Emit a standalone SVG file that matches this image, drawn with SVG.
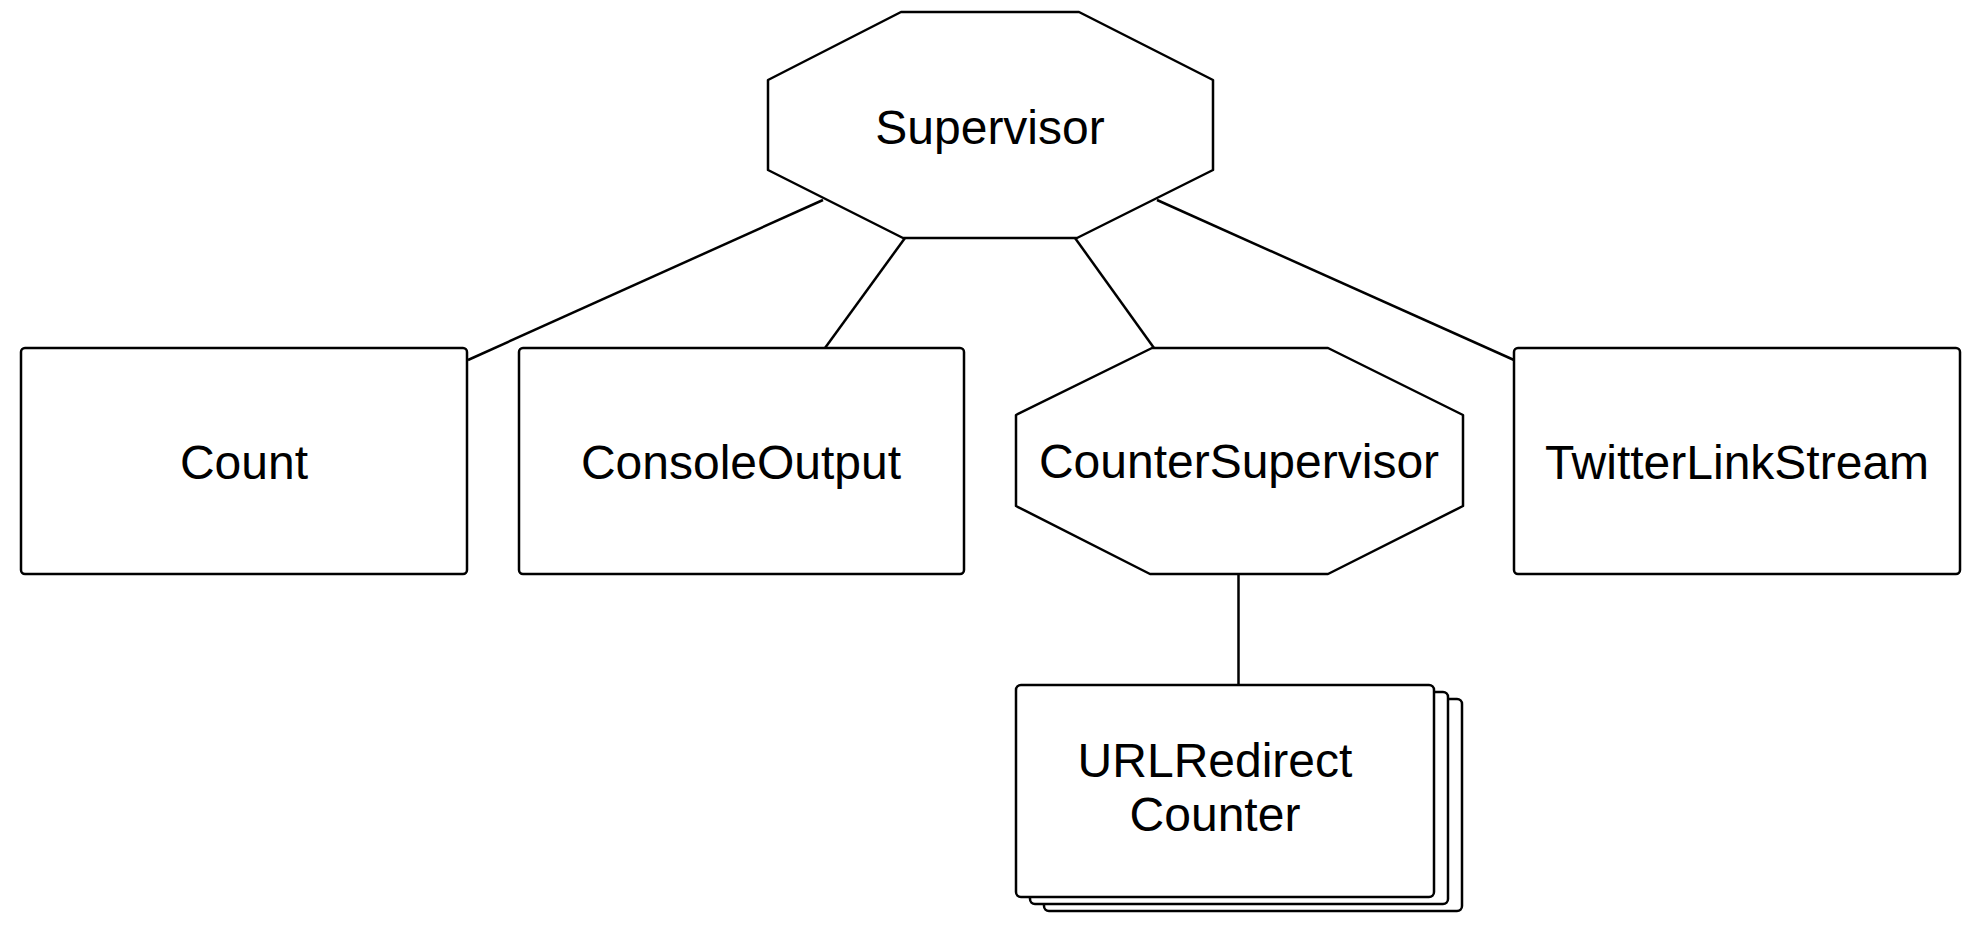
<svg xmlns="http://www.w3.org/2000/svg" width="1982" height="930" viewBox="0 0 1982 930">
<style>
.shape{fill:#fff;stroke:#000;stroke-width:2.5;stroke-linejoin:round}
.conn{stroke:#000;stroke-width:2.5;fill:none}
.lbl{font-family:"Liberation Sans",Arial,sans-serif;font-size:48px;fill:#000;text-anchor:middle}
</style>
<rect width="1982" height="930" fill="#fff"/>
<g id="connectors">
<line class="conn" x1="823" y1="200" x2="468" y2="360"/>
<line class="conn" x1="905" y1="238" x2="825" y2="348"/>
<line class="conn" x1="1075" y1="238" x2="1154" y2="348"/>
<line class="conn" x1="1157" y1="200" x2="1514" y2="360"/>
<line class="conn" x1="1238.5" y1="574" x2="1238.5" y2="685"/>
</g>
<g id="supervisor">
<polygon class="shape" points="901,12 1079,12 1213,80 1213,170 1077,238 903,238 768,170 768,80"/>
<text class="lbl" x="990" y="144">Supervisor</text>
</g>
<g id="count">
<rect class="shape" x="21" y="348" width="446" height="226" rx="4"/>
<text class="lbl" x="244" y="479">Count</text>
</g>
<g id="consoleoutput">
<rect class="shape" x="519" y="348" width="445" height="226" rx="4"/>
<text class="lbl" x="741" y="479">ConsoleOutput</text>
</g>
<g id="countersupervisor">
<polygon class="shape" points="1152,348 1328,348 1463,415 1463,506 1328,574 1150,574 1016,506 1016,415"/>
<text class="lbl" x="1239" y="478">CounterSupervisor</text>
</g>
<g id="twitterlinkstream">
<rect class="shape" x="1514" y="348" width="446" height="226" rx="4"/>
<text class="lbl" x="1737" y="479">TwitterLinkStream</text>
</g>
<g id="urlredirectcounter">
<rect class="shape" x="1044" y="699" width="418" height="212" rx="5"/>
<rect class="shape" x="1030" y="692" width="418" height="212" rx="5"/>
<rect class="shape" x="1016" y="685" width="418" height="212" rx="5"/>
<text class="lbl" x="1215" y="777">URLRedirect</text>
<text class="lbl" x="1215" y="831">Counter</text>
</g>
</svg>
